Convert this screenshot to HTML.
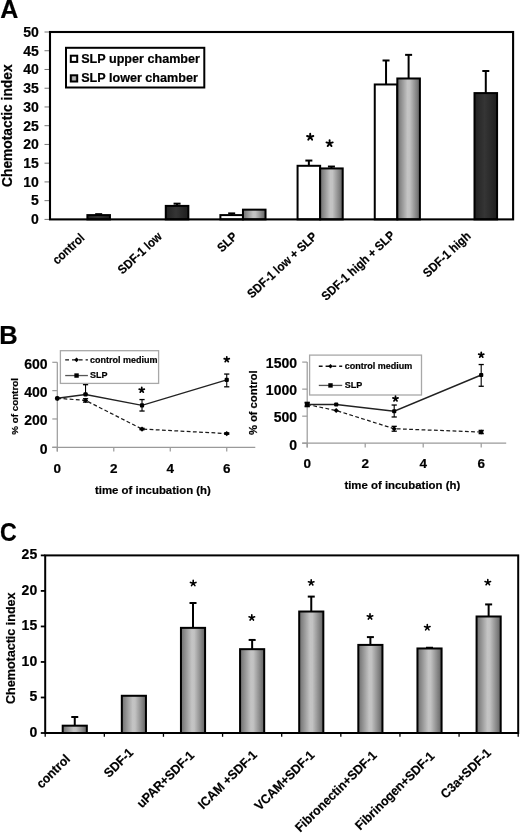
<!DOCTYPE html>
<html><head><meta charset="utf-8"><style>
html,body{margin:0;padding:0;background:#fff;}
svg{display:block;font-family:"Liberation Sans", sans-serif;filter:grayscale(1);}
text{stroke:#000;stroke-width:0.2px;}
</style></head><body>
<svg width="520" height="836" viewBox="0 0 520 836">
<defs>
<linearGradient id="gg" x1="0" y1="0" x2="1" y2="0">
<stop offset="0" stop-color="#6e6e6e"/><stop offset="0.12" stop-color="#858585"/><stop offset="0.45" stop-color="#c4c4c4"/><stop offset="0.55" stop-color="#c2c2c2"/><stop offset="0.88" stop-color="#7c7c7c"/><stop offset="1" stop-color="#606060"/>
</linearGradient>
<linearGradient id="gg2" x1="0" y1="0" x2="1" y2="0">
<stop offset="0" stop-color="#888"/><stop offset="0.5" stop-color="#c0c0c0"/><stop offset="1" stop-color="#888"/>
</linearGradient>
<linearGradient id="gd" x1="0" y1="0" x2="1" y2="0">
<stop offset="0" stop-color="#222"/><stop offset="0.45" stop-color="#353535"/><stop offset="1" stop-color="#1e1e1e"/>
</linearGradient>
</defs>
<rect width="520" height="836" fill="#fff"/>
<text x="0.30" y="18.40" font-size="25" font-weight="bold" text-anchor="start" fill="#000">A</text>
<line x1="44.50" y1="219.40" x2="50.00" y2="219.40" stroke="#777" stroke-width="1"/>
<text x="38.80" y="224.22" font-size="14" font-weight="bold" text-anchor="end" fill="#000">0</text>
<line x1="44.50" y1="200.66" x2="50.00" y2="200.66" stroke="#777" stroke-width="1"/>
<text x="38.80" y="205.48" font-size="14" font-weight="bold" text-anchor="end" fill="#000">5</text>
<line x1="44.50" y1="181.92" x2="50.00" y2="181.92" stroke="#777" stroke-width="1"/>
<text x="38.80" y="186.74" font-size="14" font-weight="bold" text-anchor="end" fill="#000">10</text>
<line x1="44.50" y1="163.18" x2="50.00" y2="163.18" stroke="#777" stroke-width="1"/>
<text x="38.80" y="168.00" font-size="14" font-weight="bold" text-anchor="end" fill="#000">15</text>
<line x1="44.50" y1="144.44" x2="50.00" y2="144.44" stroke="#777" stroke-width="1"/>
<text x="38.80" y="149.26" font-size="14" font-weight="bold" text-anchor="end" fill="#000">20</text>
<line x1="44.50" y1="125.70" x2="50.00" y2="125.70" stroke="#777" stroke-width="1"/>
<text x="38.80" y="130.52" font-size="14" font-weight="bold" text-anchor="end" fill="#000">25</text>
<line x1="44.50" y1="106.96" x2="50.00" y2="106.96" stroke="#777" stroke-width="1"/>
<text x="38.80" y="111.78" font-size="14" font-weight="bold" text-anchor="end" fill="#000">30</text>
<line x1="44.50" y1="88.22" x2="50.00" y2="88.22" stroke="#777" stroke-width="1"/>
<text x="38.80" y="93.04" font-size="14" font-weight="bold" text-anchor="end" fill="#000">35</text>
<line x1="44.50" y1="69.48" x2="50.00" y2="69.48" stroke="#777" stroke-width="1"/>
<text x="38.80" y="74.30" font-size="14" font-weight="bold" text-anchor="end" fill="#000">40</text>
<line x1="44.50" y1="50.74" x2="50.00" y2="50.74" stroke="#777" stroke-width="1"/>
<text x="38.80" y="55.56" font-size="14" font-weight="bold" text-anchor="end" fill="#000">45</text>
<line x1="44.50" y1="32.00" x2="50.00" y2="32.00" stroke="#777" stroke-width="1"/>
<text x="38.80" y="36.82" font-size="14" font-weight="bold" text-anchor="end" fill="#000">50</text>
<text x="0" y="0" transform="translate(12.20 125.70) rotate(-90) scale(1.0 1.03)" font-size="13.8" font-weight="bold" text-anchor="middle" fill="#000">Chemotactic index</text>
<line x1="98.68" y1="215.09" x2="98.68" y2="214.15" stroke="#000" stroke-width="2"/>
<line x1="95.18" y1="214.15" x2="102.18" y2="214.15" stroke="#000" stroke-width="2"/>
<rect x="87.39" y="215.09" width="22.57" height="4.31" fill="url(#gd)" stroke="#000" stroke-width="2"/>
<line x1="177.06" y1="205.91" x2="177.06" y2="203.66" stroke="#000" stroke-width="2"/>
<line x1="173.56" y1="203.66" x2="180.56" y2="203.66" stroke="#000" stroke-width="2"/>
<rect x="165.78" y="205.91" width="22.57" height="13.49" fill="url(#gd)" stroke="#000" stroke-width="2"/>
<line x1="231.67" y1="215.09" x2="231.67" y2="213.40" stroke="#000" stroke-width="2"/>
<line x1="228.17" y1="213.40" x2="235.17" y2="213.40" stroke="#000" stroke-width="2"/>
<rect x="220.39" y="215.09" width="22.57" height="4.31" fill="#fff" stroke="#000" stroke-width="2"/>
<rect x="242.96" y="209.66" width="22.57" height="9.74" fill="url(#gg)" stroke="#000" stroke-width="2"/>
<line x1="308.86" y1="165.80" x2="308.86" y2="160.56" stroke="#000" stroke-width="2"/>
<line x1="305.36" y1="160.56" x2="312.36" y2="160.56" stroke="#000" stroke-width="2"/>
<rect x="297.57" y="165.80" width="22.57" height="53.60" fill="#fff" stroke="#000" stroke-width="2"/>
<line x1="331.43" y1="168.43" x2="331.43" y2="166.55" stroke="#000" stroke-width="2"/>
<line x1="327.93" y1="166.55" x2="334.93" y2="166.55" stroke="#000" stroke-width="2"/>
<rect x="320.14" y="168.43" width="22.57" height="50.97" fill="url(#gg)" stroke="#000" stroke-width="2"/>
<line x1="386.04" y1="84.47" x2="386.04" y2="60.48" stroke="#000" stroke-width="2"/>
<line x1="382.54" y1="60.48" x2="389.54" y2="60.48" stroke="#000" stroke-width="2"/>
<rect x="374.76" y="84.47" width="22.57" height="134.93" fill="#fff" stroke="#000" stroke-width="2"/>
<line x1="408.61" y1="78.48" x2="408.61" y2="54.86" stroke="#000" stroke-width="2"/>
<line x1="405.11" y1="54.86" x2="412.11" y2="54.86" stroke="#000" stroke-width="2"/>
<rect x="397.33" y="78.48" width="22.57" height="140.92" fill="url(#gg)" stroke="#000" stroke-width="2"/>
<line x1="485.79" y1="93.09" x2="485.79" y2="70.98" stroke="#000" stroke-width="2"/>
<line x1="482.29" y1="70.98" x2="489.29" y2="70.98" stroke="#000" stroke-width="2"/>
<rect x="474.51" y="93.09" width="22.57" height="126.31" fill="url(#gd)" stroke="#000" stroke-width="2"/>
<rect x="50.00" y="32.00" width="463.10" height="187.40" fill="none" stroke="#000" stroke-width="2.1"/>
<path d="M310.20 137.00L310.20 133.70M310.20 137.00L313.34 135.98M310.20 137.00L312.14 139.67M310.20 137.00L308.26 139.67M310.20 137.00L307.06 135.98" stroke="#000" stroke-width="1.90" stroke-linecap="round" fill="none"/>
<path d="M329.60 143.40L329.60 140.10M329.60 143.40L332.74 142.38M329.60 143.40L331.54 146.07M329.60 143.40L327.66 146.07M329.60 143.40L326.46 142.38" stroke="#000" stroke-width="1.90" stroke-linecap="round" fill="none"/>
<rect x="66.00" y="47.80" width="138.30" height="39.70" fill="#fff" stroke="#000" stroke-width="2"/>
<rect x="70.80" y="55.70" width="6.40" height="6.20" fill="#fff" stroke="#000" stroke-width="2"/>
<rect x="70.80" y="75.30" width="6.40" height="6.20" fill="url(#gg2)" stroke="#000" stroke-width="2"/>
<text x="81.20" y="62.80" font-size="12.6" font-weight="bold" text-anchor="start" fill="#000">SLP upper chamber</text>
<text x="81.20" y="82.40" font-size="12.6" font-weight="bold" text-anchor="start" fill="#000">SLP lower chamber</text>
<text x="0" y="0" transform="translate(85.29 238.80) rotate(-43.0) scale(0.91 1.0)" font-size="12.5" font-weight="bold" text-anchor="end" fill="#000">control</text>
<text x="0" y="0" transform="translate(162.78 237.40) rotate(-43.0) scale(0.91 1.0)" font-size="12.5" font-weight="bold" text-anchor="end" fill="#000">SDF-1 low</text>
<text x="0" y="0" transform="translate(238.16 237.60) rotate(-43.0) scale(0.91 1.0)" font-size="12.5" font-weight="bold" text-anchor="end" fill="#000">SLP</text>
<text x="0" y="0" transform="translate(317.84 237.50) rotate(-43.0) scale(0.91 1.0)" font-size="12.5" font-weight="bold" text-anchor="end" fill="#000">SDF-1 low + SLP</text>
<text x="0" y="0" transform="translate(395.73 236.40) rotate(-43.0) scale(0.91 1.0)" font-size="12.5" font-weight="bold" text-anchor="end" fill="#000">SDF-1 high + SLP</text>
<text x="0" y="0" transform="translate(471.51 237.00) rotate(-43.0) scale(0.91 1.0)" font-size="12.5" font-weight="bold" text-anchor="end" fill="#000">SDF-1 high</text>
<text x="-0.80" y="343.60" font-size="25.5" font-weight="bold" text-anchor="start" fill="#000">B</text>
<line x1="57.30" y1="362.30" x2="57.30" y2="451.50" stroke="#9a9a9a" stroke-width="1.2"/>
<line x1="52.30" y1="447.30" x2="255.30" y2="447.30" stroke="#9a9a9a" stroke-width="1.2"/>
<line x1="52.30" y1="447.30" x2="57.30" y2="447.30" stroke="#9a9a9a" stroke-width="1.2"/>
<text x="47.60" y="453.62" font-size="14" font-weight="bold" text-anchor="end" fill="#000">0</text>
<line x1="52.30" y1="418.97" x2="57.30" y2="418.97" stroke="#9a9a9a" stroke-width="1.2"/>
<text x="47.60" y="425.28" font-size="14" font-weight="bold" text-anchor="end" fill="#000">200</text>
<line x1="52.30" y1="390.63" x2="57.30" y2="390.63" stroke="#9a9a9a" stroke-width="1.2"/>
<text x="47.60" y="396.95" font-size="14" font-weight="bold" text-anchor="end" fill="#000">400</text>
<line x1="52.30" y1="362.30" x2="57.30" y2="362.30" stroke="#9a9a9a" stroke-width="1.2"/>
<text x="47.60" y="368.62" font-size="14" font-weight="bold" text-anchor="end" fill="#000">600</text>
<line x1="57.30" y1="447.30" x2="57.30" y2="451.50" stroke="#9a9a9a" stroke-width="1.2"/>
<text x="57.30" y="473.20" font-size="13.5" font-weight="bold" text-anchor="middle" fill="#000">0</text>
<line x1="113.78" y1="447.30" x2="113.78" y2="451.50" stroke="#9a9a9a" stroke-width="1.2"/>
<text x="113.78" y="473.20" font-size="13.5" font-weight="bold" text-anchor="middle" fill="#000">2</text>
<line x1="170.26" y1="447.30" x2="170.26" y2="451.50" stroke="#9a9a9a" stroke-width="1.2"/>
<text x="170.26" y="473.20" font-size="13.5" font-weight="bold" text-anchor="middle" fill="#000">4</text>
<line x1="226.74" y1="447.30" x2="226.74" y2="451.50" stroke="#9a9a9a" stroke-width="1.2"/>
<text x="226.74" y="473.20" font-size="13.5" font-weight="bold" text-anchor="middle" fill="#000">6</text>
<text x="95.00" y="493.60" font-size="11.4" font-weight="bold" text-anchor="start" fill="#000">time of incubation (h)</text>
<text x="0" y="0" transform="translate(18.10 406.40) rotate(-90)" font-size="9.8" font-weight="bold" text-anchor="middle" fill="#000">% of control</text>
<rect x="60.40" y="350.70" width="98.20" height="32.70" fill="#fff" stroke="#a8a8a8" stroke-width="1.3"/>
<line x1="65.20" y1="359.86" x2="87.90" y2="359.86" stroke="#111" stroke-width="1.3" stroke-dasharray="3.8,3"/>
<path d="M76.55 357.56 l2.3 2.3 l-2.3 2.3 l-2.3 -2.3z" fill="#000"/>
<line x1="65.20" y1="375.55" x2="87.90" y2="375.55" stroke="#555" stroke-width="1.3"/>
<rect x="74.35" y="373.35" width="4.4" height="4.4" fill="#000"/>
<text x="90.00" y="362.76" font-size="9" font-weight="bold" text-anchor="start" fill="#000">control medium</text>
<text x="90.00" y="378.45" font-size="9" font-weight="bold" text-anchor="start" fill="#000">SLP</text>
<line x1="85.54" y1="398.71" x2="85.54" y2="402.11" stroke="#000" stroke-width="1.1"/>
<line x1="82.94" y1="398.71" x2="88.14" y2="398.71" stroke="#000" stroke-width="1.3"/>
<line x1="82.94" y1="402.11" x2="88.14" y2="402.11" stroke="#000" stroke-width="1.3"/>
<line x1="142.02" y1="428.32" x2="142.02" y2="429.73" stroke="#000" stroke-width="1.1"/>
<line x1="139.42" y1="428.32" x2="144.62" y2="428.32" stroke="#000" stroke-width="1.3"/>
<line x1="139.42" y1="429.73" x2="144.62" y2="429.73" stroke="#000" stroke-width="1.3"/>
<line x1="226.74" y1="432.85" x2="226.74" y2="434.27" stroke="#000" stroke-width="1.1"/>
<line x1="224.14" y1="432.85" x2="229.34" y2="432.85" stroke="#000" stroke-width="1.3"/>
<line x1="224.14" y1="434.27" x2="229.34" y2="434.27" stroke="#000" stroke-width="1.3"/>
<polyline points="57.30,398.28 85.54,400.41 142.02,429.03 226.74,433.56" fill="none" stroke="#1a1a1a" stroke-width="1.25" stroke-dasharray="3.8,2.4"/>
<path d="M57.30 395.68 l2.6 2.6 l-2.6 2.6 l-2.6 -2.6z" fill="#000"/>
<path d="M85.54 397.81 l2.6 2.6 l-2.6 2.6 l-2.6 -2.6z" fill="#000"/>
<path d="M142.02 426.43 l2.6 2.6 l-2.6 2.6 l-2.6 -2.6z" fill="#000"/>
<path d="M226.74 430.96 l2.6 2.6 l-2.6 2.6 l-2.6 -2.6z" fill="#000"/>
<line x1="85.54" y1="384.68" x2="85.54" y2="394.46" stroke="#000" stroke-width="1.1"/>
<line x1="82.94" y1="384.68" x2="88.14" y2="384.68" stroke="#000" stroke-width="1.3"/>
<line x1="82.94" y1="394.46" x2="88.14" y2="394.46" stroke="#000" stroke-width="1.3"/>
<line x1="142.02" y1="399.56" x2="142.02" y2="411.03" stroke="#000" stroke-width="1.1"/>
<line x1="139.42" y1="399.56" x2="144.62" y2="399.56" stroke="#000" stroke-width="1.3"/>
<line x1="139.42" y1="411.03" x2="144.62" y2="411.03" stroke="#000" stroke-width="1.3"/>
<line x1="226.74" y1="374.06" x2="226.74" y2="386.81" stroke="#000" stroke-width="1.1"/>
<line x1="224.14" y1="374.06" x2="229.34" y2="374.06" stroke="#000" stroke-width="1.3"/>
<line x1="224.14" y1="386.81" x2="229.34" y2="386.81" stroke="#000" stroke-width="1.3"/>
<polyline points="57.30,398.28 85.54,394.46 142.02,405.37 226.74,379.87" fill="none" stroke="#222" stroke-width="1.4"/>
<rect x="55.20" y="396.18" width="4.2" height="4.2" rx="1" fill="#000"/>
<rect x="83.44" y="392.36" width="4.2" height="4.2" rx="1" fill="#000"/>
<rect x="139.92" y="403.27" width="4.2" height="4.2" rx="1" fill="#000"/>
<rect x="224.64" y="377.77" width="4.2" height="4.2" rx="1" fill="#000"/>
<path d="M141.75 390.00L141.75 387.30M141.75 390.00L144.32 389.17M141.75 390.00L143.34 392.18M141.75 390.00L140.16 392.18M141.75 390.00L139.18 389.17" stroke="#000" stroke-width="1.70" stroke-linecap="round" fill="none"/>
<path d="M226.75 359.50L226.75 356.80M226.75 359.50L229.32 358.67M226.75 359.50L228.34 361.68M226.75 359.50L225.16 361.68M226.75 359.50L224.18 358.67" stroke="#000" stroke-width="1.70" stroke-linecap="round" fill="none"/>
<line x1="307.20" y1="362.10" x2="307.20" y2="447.40" stroke="#9a9a9a" stroke-width="1.2"/>
<line x1="302.20" y1="443.20" x2="506.20" y2="443.20" stroke="#9a9a9a" stroke-width="1.2"/>
<line x1="302.20" y1="443.20" x2="307.20" y2="443.20" stroke="#9a9a9a" stroke-width="1.2"/>
<text x="297.00" y="449.52" font-size="14" font-weight="bold" text-anchor="end" fill="#000">0</text>
<line x1="302.20" y1="416.17" x2="307.20" y2="416.17" stroke="#9a9a9a" stroke-width="1.2"/>
<text x="297.00" y="422.48" font-size="14" font-weight="bold" text-anchor="end" fill="#000">500</text>
<line x1="302.20" y1="389.13" x2="307.20" y2="389.13" stroke="#9a9a9a" stroke-width="1.2"/>
<text x="297.00" y="395.45" font-size="14" font-weight="bold" text-anchor="end" fill="#000">1000</text>
<line x1="302.20" y1="362.10" x2="307.20" y2="362.10" stroke="#9a9a9a" stroke-width="1.2"/>
<text x="297.00" y="368.42" font-size="14" font-weight="bold" text-anchor="end" fill="#000">1500</text>
<line x1="307.20" y1="443.20" x2="307.20" y2="447.40" stroke="#9a9a9a" stroke-width="1.2"/>
<text x="307.20" y="467.60" font-size="13.5" font-weight="bold" text-anchor="middle" fill="#000">0</text>
<line x1="365.20" y1="443.20" x2="365.20" y2="447.40" stroke="#9a9a9a" stroke-width="1.2"/>
<text x="365.20" y="467.60" font-size="13.5" font-weight="bold" text-anchor="middle" fill="#000">2</text>
<line x1="423.20" y1="443.20" x2="423.20" y2="447.40" stroke="#9a9a9a" stroke-width="1.2"/>
<text x="423.20" y="467.60" font-size="13.5" font-weight="bold" text-anchor="middle" fill="#000">4</text>
<line x1="481.20" y1="443.20" x2="481.20" y2="447.40" stroke="#9a9a9a" stroke-width="1.2"/>
<text x="481.20" y="467.60" font-size="13.5" font-weight="bold" text-anchor="middle" fill="#000">6</text>
<text x="344.40" y="488.60" font-size="11.4" font-weight="bold" text-anchor="start" fill="#000">time of incubation (h)</text>
<text x="0" y="0" transform="translate(256.60 402.80) rotate(-90)" font-size="11.2" font-weight="bold" text-anchor="middle" fill="#000">% of control</text>
<rect x="309.60" y="355.10" width="111.90" height="39.90" fill="#fff" stroke="#a8a8a8" stroke-width="1.3"/>
<line x1="318.80" y1="366.27" x2="342.20" y2="366.27" stroke="#111" stroke-width="1.3" stroke-dasharray="3.8,3"/>
<path d="M330.50 363.97 l2.3 2.3 l-2.3 2.3 l-2.3 -2.3z" fill="#000"/>
<line x1="318.80" y1="385.42" x2="342.20" y2="385.42" stroke="#555" stroke-width="1.3"/>
<rect x="328.30" y="383.22" width="4.4" height="4.4" fill="#000"/>
<text x="344.80" y="369.17" font-size="9" font-weight="bold" text-anchor="start" fill="#000">control medium</text>
<text x="344.80" y="388.32" font-size="9" font-weight="bold" text-anchor="start" fill="#000">SLP</text>
<line x1="307.20" y1="402.33" x2="307.20" y2="406.65" stroke="#000" stroke-width="1.1"/>
<line x1="304.60" y1="402.33" x2="309.80" y2="402.33" stroke="#000" stroke-width="1.3"/>
<line x1="304.60" y1="406.65" x2="309.80" y2="406.65" stroke="#000" stroke-width="1.3"/>
<line x1="394.20" y1="426.33" x2="394.20" y2="431.20" stroke="#000" stroke-width="1.1"/>
<line x1="391.60" y1="426.33" x2="396.80" y2="426.33" stroke="#000" stroke-width="1.3"/>
<line x1="391.60" y1="431.20" x2="396.80" y2="431.20" stroke="#000" stroke-width="1.3"/>
<line x1="481.20" y1="430.39" x2="481.20" y2="433.63" stroke="#000" stroke-width="1.1"/>
<line x1="478.60" y1="430.39" x2="483.80" y2="430.39" stroke="#000" stroke-width="1.3"/>
<line x1="478.60" y1="433.63" x2="483.80" y2="433.63" stroke="#000" stroke-width="1.3"/>
<polyline points="307.20,404.49 336.20,410.49 394.20,428.76 481.20,432.01" fill="none" stroke="#1a1a1a" stroke-width="1.25" stroke-dasharray="3.8,2.4"/>
<path d="M307.20 401.89 l2.6 2.6 l-2.6 2.6 l-2.6 -2.6z" fill="#000"/>
<path d="M336.20 407.89 l2.6 2.6 l-2.6 2.6 l-2.6 -2.6z" fill="#000"/>
<path d="M394.20 426.16 l2.6 2.6 l-2.6 2.6 l-2.6 -2.6z" fill="#000"/>
<path d="M481.20 429.41 l2.6 2.6 l-2.6 2.6 l-2.6 -2.6z" fill="#000"/>
<line x1="307.20" y1="403.19" x2="307.20" y2="405.79" stroke="#000" stroke-width="1.1"/>
<line x1="304.60" y1="403.19" x2="309.80" y2="403.19" stroke="#000" stroke-width="1.3"/>
<line x1="304.60" y1="405.79" x2="309.80" y2="405.79" stroke="#000" stroke-width="1.3"/>
<line x1="394.20" y1="405.03" x2="394.20" y2="416.98" stroke="#000" stroke-width="1.1"/>
<line x1="391.60" y1="405.03" x2="396.80" y2="405.03" stroke="#000" stroke-width="1.3"/>
<line x1="391.60" y1="416.98" x2="396.80" y2="416.98" stroke="#000" stroke-width="1.3"/>
<line x1="481.20" y1="364.53" x2="481.20" y2="386.27" stroke="#000" stroke-width="1.1"/>
<line x1="478.60" y1="364.53" x2="483.80" y2="364.53" stroke="#000" stroke-width="1.3"/>
<line x1="478.60" y1="386.27" x2="483.80" y2="386.27" stroke="#000" stroke-width="1.3"/>
<polyline points="307.20,404.49 336.20,404.49 394.20,411.25 481.20,375.02" fill="none" stroke="#222" stroke-width="1.4"/>
<rect x="305.10" y="402.39" width="4.2" height="4.2" rx="1" fill="#000"/>
<rect x="334.10" y="402.39" width="4.2" height="4.2" rx="1" fill="#000"/>
<rect x="392.10" y="409.15" width="4.2" height="4.2" rx="1" fill="#000"/>
<rect x="479.10" y="372.92" width="4.2" height="4.2" rx="1" fill="#000"/>
<path d="M395.50 398.75L395.50 396.05M395.50 398.75L398.07 397.92M395.50 398.75L397.09 400.93M395.50 398.75L393.91 400.93M395.50 398.75L392.93 397.92" stroke="#000" stroke-width="1.70" stroke-linecap="round" fill="none"/>
<path d="M481.25 355.00L481.25 352.30M481.25 355.00L483.82 354.17M481.25 355.00L482.84 357.18M481.25 355.00L479.66 357.18M481.25 355.00L478.68 354.17" stroke="#000" stroke-width="1.70" stroke-linecap="round" fill="none"/>
<text x="0" y="0" font-size="25.5" font-weight="bold" transform="translate(-0.1 541.3) scale(0.91 1)">C</text>
<line x1="40.80" y1="733.00" x2="45.20" y2="733.00" stroke="#000" stroke-width="1.8"/>
<text x="37.20" y="736.82" font-size="14" font-weight="bold" text-anchor="end" fill="#000">0</text>
<line x1="40.80" y1="697.48" x2="45.20" y2="697.48" stroke="#000" stroke-width="1.8"/>
<text x="37.20" y="701.30" font-size="14" font-weight="bold" text-anchor="end" fill="#000">5</text>
<line x1="40.80" y1="661.96" x2="45.20" y2="661.96" stroke="#000" stroke-width="1.8"/>
<text x="37.20" y="665.78" font-size="14" font-weight="bold" text-anchor="end" fill="#000">10</text>
<line x1="40.80" y1="626.44" x2="45.20" y2="626.44" stroke="#000" stroke-width="1.8"/>
<text x="37.20" y="630.26" font-size="14" font-weight="bold" text-anchor="end" fill="#000">15</text>
<line x1="40.80" y1="590.92" x2="45.20" y2="590.92" stroke="#000" stroke-width="1.8"/>
<text x="37.20" y="594.74" font-size="14" font-weight="bold" text-anchor="end" fill="#000">20</text>
<line x1="40.80" y1="555.40" x2="45.20" y2="555.40" stroke="#000" stroke-width="1.8"/>
<text x="37.20" y="559.22" font-size="14" font-weight="bold" text-anchor="end" fill="#000">25</text>
<text x="0" y="0" transform="translate(14.80 648.20) rotate(-90) scale(1.0 1.04)" font-size="12.55" font-weight="bold" text-anchor="middle" fill="#000">Chemotactic index</text>
<line x1="74.76" y1="725.68" x2="74.76" y2="717.02" stroke="#000" stroke-width="2"/>
<line x1="71.26" y1="717.02" x2="78.26" y2="717.02" stroke="#000" stroke-width="2"/>
<rect x="62.70" y="725.68" width="24.13" height="7.32" fill="url(#gg)" stroke="#000" stroke-width="2"/>
<rect x="121.82" y="695.78" width="24.13" height="37.22" fill="url(#gg)" stroke="#000" stroke-width="2"/>
<line x1="193.01" y1="627.86" x2="193.01" y2="603.00" stroke="#000" stroke-width="2"/>
<line x1="189.51" y1="603.00" x2="196.51" y2="603.00" stroke="#000" stroke-width="2"/>
<rect x="180.95" y="627.86" width="24.13" height="105.14" fill="url(#gg)" stroke="#000" stroke-width="2"/>
<line x1="252.14" y1="649.17" x2="252.14" y2="639.94" stroke="#000" stroke-width="2"/>
<line x1="248.64" y1="639.94" x2="255.64" y2="639.94" stroke="#000" stroke-width="2"/>
<rect x="240.07" y="649.17" width="24.13" height="83.83" fill="url(#gg)" stroke="#000" stroke-width="2"/>
<line x1="311.26" y1="611.52" x2="311.26" y2="596.60" stroke="#000" stroke-width="2"/>
<line x1="307.76" y1="596.60" x2="314.76" y2="596.60" stroke="#000" stroke-width="2"/>
<rect x="299.20" y="611.52" width="24.13" height="121.48" fill="url(#gg)" stroke="#000" stroke-width="2"/>
<line x1="370.39" y1="644.91" x2="370.39" y2="637.10" stroke="#000" stroke-width="2"/>
<line x1="366.89" y1="637.10" x2="373.89" y2="637.10" stroke="#000" stroke-width="2"/>
<rect x="358.32" y="644.91" width="24.13" height="88.09" fill="url(#gg)" stroke="#000" stroke-width="2"/>
<line x1="429.51" y1="648.46" x2="429.51" y2="647.75" stroke="#000" stroke-width="2"/>
<line x1="426.01" y1="647.75" x2="433.01" y2="647.75" stroke="#000" stroke-width="2"/>
<rect x="417.45" y="648.46" width="24.13" height="84.54" fill="url(#gg)" stroke="#000" stroke-width="2"/>
<line x1="488.64" y1="616.49" x2="488.64" y2="604.42" stroke="#000" stroke-width="2"/>
<line x1="485.14" y1="604.42" x2="492.14" y2="604.42" stroke="#000" stroke-width="2"/>
<rect x="476.57" y="616.49" width="24.13" height="116.51" fill="url(#gg)" stroke="#000" stroke-width="2"/>
<line x1="104.33" y1="733.00" x2="104.33" y2="736.80" stroke="#000" stroke-width="1.3"/>
<line x1="163.45" y1="733.00" x2="163.45" y2="736.80" stroke="#000" stroke-width="1.3"/>
<line x1="222.58" y1="733.00" x2="222.58" y2="736.80" stroke="#000" stroke-width="1.3"/>
<line x1="281.70" y1="733.00" x2="281.70" y2="736.80" stroke="#000" stroke-width="1.3"/>
<line x1="340.83" y1="733.00" x2="340.83" y2="736.80" stroke="#000" stroke-width="1.3"/>
<line x1="399.95" y1="733.00" x2="399.95" y2="736.80" stroke="#000" stroke-width="1.3"/>
<line x1="459.08" y1="733.00" x2="459.08" y2="736.80" stroke="#000" stroke-width="1.3"/>
<line x1="45.20" y1="733.00" x2="45.20" y2="736.80" stroke="#000" stroke-width="1.3"/>
<line x1="518.20" y1="733.00" x2="518.20" y2="736.80" stroke="#000" stroke-width="1.3"/>
<rect x="45.20" y="555.40" width="473.00" height="177.60" fill="none" stroke="#000" stroke-width="2"/>
<path d="M193.20 583.30L193.20 580.40M193.20 583.30L195.96 582.40M193.20 583.30L194.90 585.65M193.20 583.30L191.50 585.65M193.20 583.30L190.44 582.40" stroke="#000" stroke-width="1.60" stroke-linecap="round" fill="none"/>
<path d="M251.80 617.70L251.80 614.80M251.80 617.70L254.56 616.80M251.80 617.70L253.50 620.05M251.80 617.70L250.10 620.05M251.80 617.70L249.04 616.80" stroke="#000" stroke-width="1.60" stroke-linecap="round" fill="none"/>
<path d="M311.20 582.60L311.20 579.70M311.20 582.60L313.96 581.70M311.20 582.60L312.90 584.95M311.20 582.60L309.50 584.95M311.20 582.60L308.44 581.70" stroke="#000" stroke-width="1.60" stroke-linecap="round" fill="none"/>
<path d="M370.00 616.70L370.00 613.80M370.00 616.70L372.76 615.80M370.00 616.70L371.70 619.05M370.00 616.70L368.30 619.05M370.00 616.70L367.24 615.80" stroke="#000" stroke-width="1.60" stroke-linecap="round" fill="none"/>
<path d="M427.30 627.50L427.30 624.60M427.30 627.50L430.06 626.60M427.30 627.50L429.00 629.85M427.30 627.50L425.60 629.85M427.30 627.50L424.54 626.60" stroke="#000" stroke-width="1.60" stroke-linecap="round" fill="none"/>
<path d="M487.80 582.40L487.80 579.50M487.80 582.40L490.56 581.50M487.80 582.40L489.50 584.75M487.80 582.40L486.10 584.75M487.80 582.40L485.04 581.50" stroke="#000" stroke-width="1.60" stroke-linecap="round" fill="none"/>
<text x="0" y="0" transform="translate(70.86 759.90) rotate(-44.6) scale(0.95 1.0)" font-size="12.85" font-weight="bold" text-anchor="end" fill="#000">control</text>
<text x="0" y="0" transform="translate(134.19 753.50) rotate(-44.6) scale(0.95 1.0)" font-size="12.85" font-weight="bold" text-anchor="end" fill="#000">SDF-1</text>
<text x="0" y="0" transform="translate(195.01 756.20) rotate(-44.6) scale(0.95 1.0)" font-size="12.85" font-weight="bold" text-anchor="end" fill="#000">uPAR+SDF-1</text>
<text x="0" y="0" transform="translate(257.94 755.80) rotate(-44.6) scale(0.95 1.0)" font-size="12.85" font-weight="bold" text-anchor="end" fill="#000">ICAM +SDF-1</text>
<text x="0" y="0" transform="translate(315.36 756.00) rotate(-44.6) scale(0.95 1.0)" font-size="12.85" font-weight="bold" text-anchor="end" fill="#000">VCAM+SDF-1</text>
<text x="0" y="0" transform="translate(377.59 756.30) rotate(-44.6) scale(0.95 1.0)" font-size="12.85" font-weight="bold" text-anchor="end" fill="#000">Fibronectin+SDF-1</text>
<text x="0" y="0" transform="translate(435.31 756.90) rotate(-44.6) scale(0.95 1.0)" font-size="12.85" font-weight="bold" text-anchor="end" fill="#000">Fibrinogen+SDF-1</text>
<text x="0" y="0" transform="translate(491.94 753.70) rotate(-44.6) scale(0.95 1.0)" font-size="12.85" font-weight="bold" text-anchor="end" fill="#000">C3a+SDF-1</text>
</svg>
</body></html>
